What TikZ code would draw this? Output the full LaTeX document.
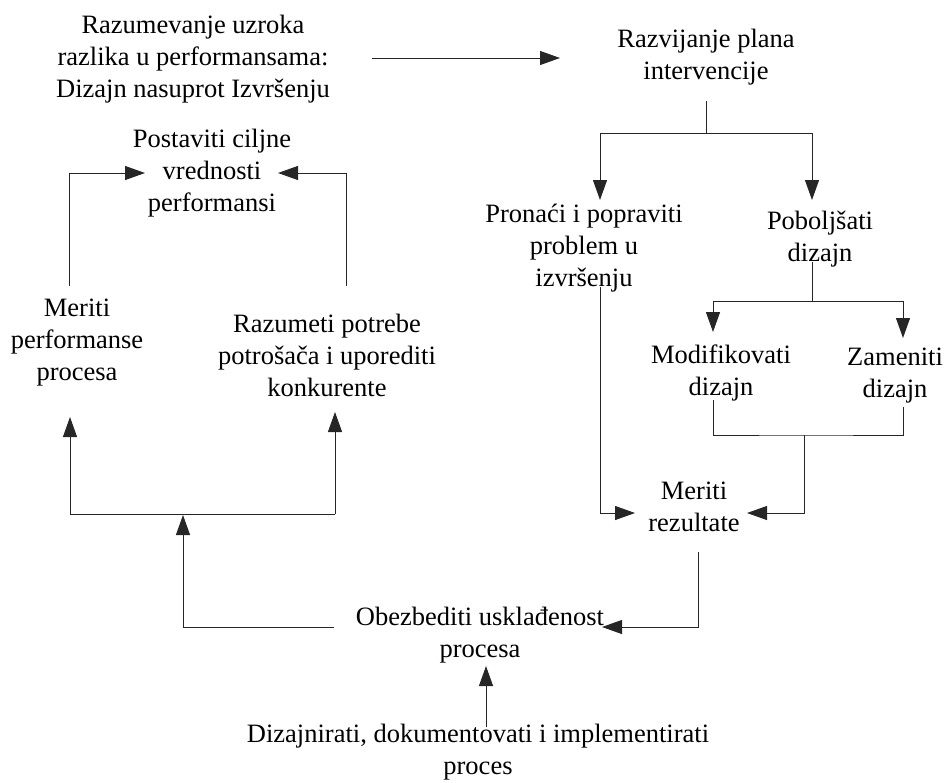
\documentclass[tikz,border=0pt]{standalone}
\usepackage{fontspec}
\setmainfont{Liberation Serif}
\usetikzlibrary{arrows.meta}
\begin{document}
\begin{tikzpicture}[x=1pt,y=-1pt,
  lbl/.style={align=center,inner sep=0pt,font=\fontsize{26.5}{32}\selectfont},
  link/.style={draw=black!85,line width=1pt},
  arr/.style={link,-{Triangle[length=20pt,width=14pt]}}]
\useasboundingbox (0,0) rectangle (945,782);
% text nodes
\node[lbl] (cause)   at (193,59)  {Razumevanje uzroka\\razlika u performansama:\\Dizajn nasuprot Izvršenju};
\node[lbl] (plan)    at (706,57)  {Razvijanje plana\\intervencije};
\node[lbl] (target)  at (212,173) {Postaviti ciljne\\vrednosti\\performansi};
\node[lbl] (mproc)   at (77,343)  {Meriti\\performanse\\procesa};
\node[lbl] (cust)    at (327,355) {Razumeti potrebe\\potrošača i uporediti\\konkurente};
\node[lbl] (fix)     at (584,248) {Pronaći i popraviti\\problem u\\izvršenju};
\node[lbl] (improve) at (820,239) {Poboljšati\\dizajn};
\node[lbl] (modify)  at (721,373) {Modifikovati\\dizajn};
\node[lbl] (replace) at (895,376) {Zameniti\\dizajn};
\node[lbl] (results) at (694,507) {Meriti\\rezultate};
\node[lbl] (ensure)  at (480,635) {Obezbediti usklađenost\\procesa};
\node[lbl] (designp) at (478,752) {Dizajnirati, dokumentovati i implementirati\\proces};
% connector end points
\coordinate (causeE)   at (372,58);
\coordinate (planW)    at (560,58);
\coordinate (planS)    at (706,101);
\coordinate (planJ)    at (706,133);
\coordinate (fixN)     at (600,200);
\coordinate (improveN) at (812,200);
\coordinate (improveS) at (812,262);
\coordinate (improveJ) at (812,301);
\coordinate (modifyN)  at (713,332);
\coordinate (replaceN) at (903,338);
\coordinate (modifyS)  at (713,400);
\coordinate (replaceS) at (903,407);
\coordinate (designJ)  at (804,435);
\coordinate (resultsE) at (747,513);
\coordinate (fixS)     at (600,287);
\coordinate (resultsW) at (635,513);
\coordinate (resultsS) at (698,552);
\coordinate (ensureE)  at (602,627);
\coordinate (ensureW)  at (334,627);
\coordinate (measJ)    at (183,515);
\coordinate (measL)    at (70,514);
\coordinate (measR)    at (335,514);
\coordinate (mprocS)   at (70,417);
\coordinate (custS)    at (335,412);
\coordinate (mprocN)   at (69,286);
\coordinate (custN)    at (346,286);
\coordinate (targetW)  at (145,173);
\coordinate (targetE)  at (278,173);
\coordinate (designN)  at (486,727);
\coordinate (ensureS)  at (486,666);
% connectors
\draw[arr] (causeE) -- (planW);
\draw[link] (planS) -- (planJ);
\draw[arr] (planJ) -| (fixN);
\draw[arr] (planJ) -| (improveN);
\draw[link] (improveS) -- (improveJ);
\draw[arr] (improveJ) -| (modifyN);
\draw[arr] (improveJ) -| (replaceN);
\draw[link] (modifyS) |- (designJ) -| (replaceS);
\draw[arr] (designJ) |- (resultsE);
\draw[arr] (fixS) |- (resultsW);
\draw[arr] (resultsS) |- (ensureE);
\draw[arr] (ensureW) -| (measJ);
\draw[link] (measL) -- (measR);
\draw[arr] (measL) -- (mprocS);
\draw[arr] (measR) -- (custS);
\draw[arr] (mprocN) |- (targetW);
\draw[arr] (custN) |- (targetE);
\draw[arr] (designN) -- (ensureS);
\end{tikzpicture}
\end{document}
